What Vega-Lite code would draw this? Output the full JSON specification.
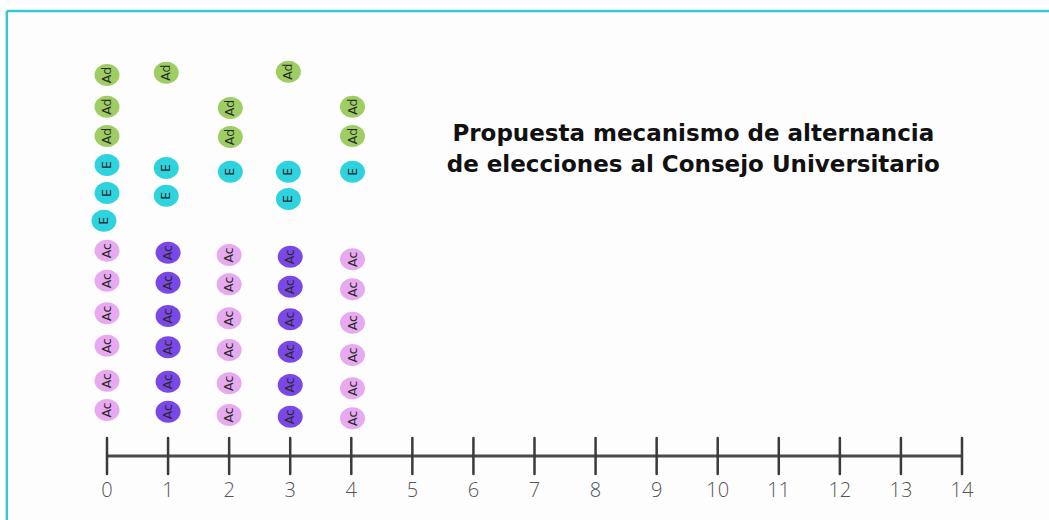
{
  "$schema": "https://vega.github.io/schema/vega-lite/v6.json",
  "width": 1042,
  "height": 509,
  "padding": {"left": 7, "top": 11, "right": 0, "bottom": 0},
  "autosize": {"type": "none"},
  "background": "#ffffff",
  "view": {"stroke": null, "fill": "#fdfdfd"},
  "datasets": {
    "fichas": [
      {"pos": 0, "nivel": 46, "grupo": "Ac claro", "etiqueta": "Ac"},
      {"pos": 0, "nivel": 75.3, "grupo": "Ac claro", "etiqueta": "Ac"},
      {"pos": 0, "nivel": 110.3, "grupo": "Ac claro", "etiqueta": "Ac"},
      {"pos": 0, "nivel": 142.7, "grupo": "Ac claro", "etiqueta": "Ac"},
      {"pos": 0, "nivel": 175.3, "grupo": "Ac claro", "etiqueta": "Ac"},
      {"pos": 0, "nivel": 205.3, "grupo": "Ac claro", "etiqueta": "Ac"},
      {"pos": -0.05, "nivel": 235.3, "grupo": "E", "etiqueta": "E"},
      {"pos": 0, "nivel": 263, "grupo": "E", "etiqueta": "E"},
      {"pos": 0, "nivel": 291, "grupo": "E", "etiqueta": "E"},
      {"pos": 0, "nivel": 320, "grupo": "Ad", "etiqueta": "Ad"},
      {"pos": 0, "nivel": 349.3, "grupo": "Ad", "etiqueta": "Ad"},
      {"pos": 0, "nivel": 381, "grupo": "Ad", "etiqueta": "Ad"},
      {"pos": 1, "nivel": 44.3, "grupo": "Ac oscuro", "etiqueta": "Ac"},
      {"pos": 1, "nivel": 74.3, "grupo": "Ac oscuro", "etiqueta": "Ac"},
      {"pos": 1, "nivel": 108.7, "grupo": "Ac oscuro", "etiqueta": "Ac"},
      {"pos": 1, "nivel": 140, "grupo": "Ac oscuro", "etiqueta": "Ac"},
      {"pos": 1, "nivel": 173.3, "grupo": "Ac oscuro", "etiqueta": "Ac"},
      {"pos": 1, "nivel": 203.3, "grupo": "Ac oscuro", "etiqueta": "Ac"},
      {"pos": 0.97, "nivel": 260.3, "grupo": "E", "etiqueta": "E"},
      {"pos": 0.97, "nivel": 288, "grupo": "E", "etiqueta": "E"},
      {"pos": 0.97, "nivel": 383.3, "grupo": "Ad", "etiqueta": "Ad"},
      {"pos": 2, "nivel": 41, "grupo": "Ac claro", "etiqueta": "Ac"},
      {"pos": 2, "nivel": 72.7, "grupo": "Ac claro", "etiqueta": "Ac"},
      {"pos": 2, "nivel": 106, "grupo": "Ac claro", "etiqueta": "Ac"},
      {"pos": 2, "nivel": 137.7, "grupo": "Ac claro", "etiqueta": "Ac"},
      {"pos": 2, "nivel": 171.7, "grupo": "Ac claro", "etiqueta": "Ac"},
      {"pos": 2, "nivel": 201, "grupo": "Ac claro", "etiqueta": "Ac"},
      {"pos": 2.02, "nivel": 284.3, "grupo": "E", "etiqueta": "E"},
      {"pos": 2.02, "nivel": 319, "grupo": "Ad", "etiqueta": "Ad"},
      {"pos": 2.02, "nivel": 348, "grupo": "Ad", "etiqueta": "Ad"},
      {"pos": 3, "nivel": 39.3, "grupo": "Ac oscuro", "etiqueta": "Ac"},
      {"pos": 3, "nivel": 71, "grupo": "Ac oscuro", "etiqueta": "Ac"},
      {"pos": 3, "nivel": 104.3, "grupo": "Ac oscuro", "etiqueta": "Ac"},
      {"pos": 3, "nivel": 136.7, "grupo": "Ac oscuro", "etiqueta": "Ac"},
      {"pos": 3, "nivel": 169.3, "grupo": "Ac oscuro", "etiqueta": "Ac"},
      {"pos": 3, "nivel": 199.3, "grupo": "Ac oscuro", "etiqueta": "Ac"},
      {"pos": 2.97, "nivel": 257, "grupo": "E", "etiqueta": "E"},
      {"pos": 2.97, "nivel": 284.3, "grupo": "E", "etiqueta": "E"},
      {"pos": 2.97, "nivel": 384.3, "grupo": "Ad", "etiqueta": "Ad"},
      {"pos": 4.02, "nivel": 37.7, "grupo": "Ac claro", "etiqueta": "Ac"},
      {"pos": 4.02, "nivel": 67.7, "grupo": "Ac claro", "etiqueta": "Ac"},
      {"pos": 4.02, "nivel": 101, "grupo": "Ac claro", "etiqueta": "Ac"},
      {"pos": 4.02, "nivel": 133.3, "grupo": "Ac claro", "etiqueta": "Ac"},
      {"pos": 4.02, "nivel": 166.7, "grupo": "Ac claro", "etiqueta": "Ac"},
      {"pos": 4.02, "nivel": 196.7, "grupo": "Ac claro", "etiqueta": "Ac"},
      {"pos": 4.02, "nivel": 284.3, "grupo": "E", "etiqueta": "E"},
      {"pos": 4.02, "nivel": 320, "grupo": "Ad", "etiqueta": "Ad"},
      {"pos": 4.02, "nivel": 349.3, "grupo": "Ad", "etiqueta": "Ad"}
    ],
    "marcas": [
      {"n": 0}, {"n": 1}, {"n": 2}, {"n": 3}, {"n": 4}, {"n": 5}, {"n": 6}, {"n": 7},
      {"n": 8}, {"n": 9}, {"n": 10}, {"n": 11}, {"n": 12}, {"n": 13}, {"n": 14}
    ],
    "recta": [{"desde": 0, "hasta": 14, "nivel": 0}],
    "borde": [{"izq": -1.64, "der": 16, "arriba": 445, "abajo": -80}]
  },
  "resolve": {"scale": {"x": "shared", "y": "shared"}},
  "layer": [
    {
      "data": {"name": "recta"},
      "mark": {"type": "rule", "color": "#4a4a4a", "strokeWidth": 3},
      "encoding": {
        "x": {"field": "desde", "type": "quantitative", "axis": null, "scale": {"domain": [0, 14], "range": [100, 955], "nice": false, "zero": false}},
        "x2": {"field": "hasta"},
        "y": {"field": "nivel", "type": "quantitative", "axis": null, "scale": {"domain": [0, 445], "range": [445, 0], "nice": false, "zero": false}}
      }
    },
    {
      "data": {"name": "borde"},
      "mark": {"type": "rule", "color": "#35c9cf", "strokeWidth": 2.5},
      "encoding": {
        "x": {"field": "izq", "type": "quantitative"},
        "x2": {"field": "der"},
        "y": {"field": "arriba", "type": "quantitative"}
      }
    },
    {
      "data": {"name": "borde"},
      "mark": {"type": "rule", "color": "#35c9cf", "strokeWidth": 2.5},
      "encoding": {
        "x": {"field": "izq", "type": "quantitative"},
        "y": {"field": "arriba", "type": "quantitative"},
        "y2": {"field": "abajo"}
      }
    },
    {
      "data": {"name": "marcas"},
      "mark": {"type": "rule", "color": "#3a3a3a", "strokeWidth": 2.5, "strokeCap": "round"},
      "encoding": {
        "x": {"field": "n", "type": "quantitative"},
        "y": {"datum": 18, "type": "quantitative"},
        "y2": {"datum": -18}
      }
    },
    {
      "data": {"name": "marcas"},
      "mark": {"type": "text", "font": "Open Sans", "fontWeight": 300, "fontSize": 20, "color": "#555555", "baseline": "middle", "align": "center"},
      "encoding": {
        "x": {"field": "n", "type": "quantitative"},
        "y": {"datum": -35, "type": "quantitative"},
        "text": {"field": "n", "type": "quantitative"}
      }
    },
    {
      "data": {"name": "fichas"},
      "mark": {"type": "point", "filled": true, "opacity": 1, "shape": "M -1 0 A 1 0.88 0 1 0 1 0 A 1 0.88 0 1 0 -1 0 Z", "size": 625},
      "encoding": {
        "x": {"field": "pos", "type": "quantitative"},
        "y": {"field": "nivel", "type": "quantitative"},
        "color": {
          "field": "grupo", "type": "nominal", "legend": null,
          "scale": {"domain": ["Ac claro", "Ac oscuro", "E", "Ad"], "range": ["#e7a9f0", "#7b48e8", "#2fd3de", "#9ecd63"]}
        }
      }
    },
    {
      "data": {"name": "fichas"},
      "mark": {"type": "text", "angle": 270, "font": "DejaVu Sans", "fontSize": 12.5, "color": "#2a2a2a", "baseline": "middle", "align": "center"},
      "encoding": {
        "x": {"field": "pos", "type": "quantitative"},
        "y": {"field": "nivel", "type": "quantitative"},
        "text": {"field": "etiqueta", "type": "nominal"}
      }
    },
    {
      "data": {"values": [{}]},
      "mark": {"type": "text", "font": "DejaVu Sans", "fontWeight": "bold", "fontSize": 23, "color": "#111111", "align": "center", "baseline": "middle", "lineHeight": 31},
      "encoding": {
        "x": {"datum": 9.6, "type": "quantitative"},
        "y": {"datum": 322, "type": "quantitative"},
        "text": {"value": ["Propuesta mecanismo de alternancia", "de elecciones al Consejo Universitario"]}
      }
    }
  ]
}
